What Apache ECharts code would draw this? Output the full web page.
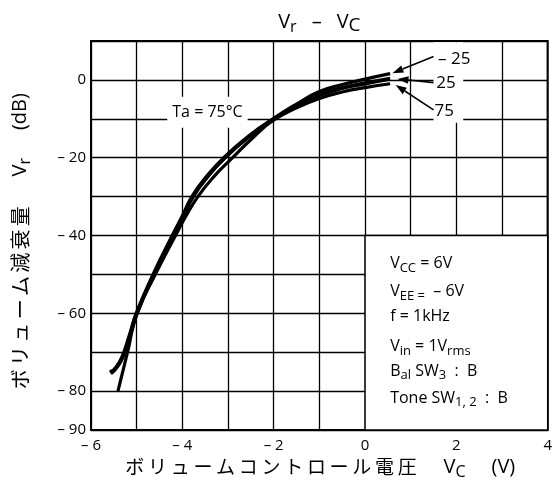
<!DOCTYPE html>
<html><head><meta charset="utf-8">
<script src="https://cdn.jsdelivr.net/npm/echarts@6/dist/echarts.min.js"></script>
<style>html,body{margin:0;padding:0;background:#fff}#c{width:555px;height:497px}</style>
</head><body><div id="c"></div>
<script>
// ---- data ----
const xTickLabels = [-6, -4, -2, 0, 2, 4];
const yTickLabels = [0, -20, -40, -60, -80, -90];
const tempNames = ['– 25', '25', '75'];
// Ta = -25 °C (upper curve)
const curveM25 = [[-5.59,-75.0],[-5.46,-74.2],[-5.32,-71.6],[-5.17,-66.4],[-5.0,-60.2],[-4.62,-50],[-4.20,-40],[-3.98,-35],[-3.76,-30],[-3.45,-25],[-3.06,-20],[-2.52,-14.4],[-2.0,-9.9],[-1.5,-6.2],[-1.0,-3.0],[-0.5,-1.2],[0,0.2],[0.55,1.6]];
// Ta = 25 °C (middle curve)
const curve25 = [[-5.57,-75.4],[-5.45,-74.0],[-5.31,-71.2],[-5.16,-66.0],[-5.0,-60],[-4.63,-50],[-4.21,-40],[-3.99,-35],[-3.78,-30],[-3.47,-25],[-3.08,-20],[-2.53,-14.4],[-2.0,-10.1],[-1.5,-6.7],[-1.0,-3.9],[-0.5,-2.1],[0,-0.9],[0.55,0.3]];
// Ta = 75 °C (lower curve)
const curve75 = [[-5.41,-80],[-5.2,-70],[-4.99,-60],[-4.59,-50],[-4.15,-40],[-3.92,-35],[-3.66,-30],[-3.32,-25],[-2.90,-20],[-2.45,-14.8],[-2.0,-10.3],[-1.5,-7.2],[-1.0,-4.8],[-0.5,-3.1],[0,-2.0],[0.55,-1.0]];

// ---- annotation placement (data coordinates) ----
const arrows = [
  {from:[1.50, 6.0], to:[0.60, 1.73]},
  {from:[1.50,-0.7], to:[0.71, 0.26]},
  {from:[1.50,-7.7], to:[0.67,-1.29]}
];
const tempLabelPos = [[1.60, 5.4],[1.56,-0.8],[1.52,-8.1]];
const condLines = [
  '{v|V}{s|CC}{v| = 6V}',
  '{v|V}{s|EE =}{v|  – 6V}',
  '{v|f = 1kHz}',
  '{v|V}{s|in}{v| = 1V}{s|rms}',
  '{v|B}{s|al}{v| SW}{s|3}{v|  :  B}',
  '{v|Tone SW}{s|1, 2}{v|  :  B}'
];
const condY = [-47.2,-54.5,-60.8,-68.5,-74.9,-81.8];
const condX = 0.55;

const FONT = "'Open Sans','Noto Sans CJK JP',sans-serif";
const JFONT = "'Noto Sans CJK JP',sans-serif";
const fmt = v => v < 0 ? '– ' + Math.abs(v) : String(v);

const chart = echarts.init(document.getElementById('c'), null, {renderer:'canvas'});
const lineSeries = (name, data, w) => ({
  name, type:'line', data, smooth:0.5, showSymbol:false, symbol:'none',
  lineStyle:{color:'#000', width:w}, z:3
});
chart.setOption({
  animation:false,
  backgroundColor:'#fff',
  grid:{left:91, right:4, top:41, bottom:67, show:true, borderColor:'#000', borderWidth:2, z:5},
  xAxis:{type:'value', min:-6, max:4, interval:1,
    axisLine:{show:false}, axisTick:{show:false},
    axisLabel:{margin:8, fontSize:15, color:'#000', fontFamily:FONT, showMinLabel:true, showMaxLabel:true,
      formatter:v => xTickLabels.includes(v) ? fmt(v) : ''},
    splitLine:{show:true, lineStyle:{color:'#000', width:1.3}}},
  yAxis:{type:'value', min:-90, max:10, interval:10,
    axisLine:{show:false}, axisTick:{show:false},
    axisLabel:{margin:5, fontSize:15, color:'#000', fontFamily:FONT, showMinLabel:true, showMaxLabel:true,
      formatter:v => yTickLabels.includes(v) ? fmt(v) : ''},
    splitLine:{show:true, lineStyle:{color:'#000', width:1.3}}},
  series:[lineSeries('-25', curveM25, 3.2), lineSeries('25', curve25, 4.2), lineSeries('75', curve75, 3.2)]
});

const P = (x, y) => chart.convertToPixel({gridIndex:0}, [x, y]);
const g = [];
// lower-right condition box
{
  const a = P(0, -40), b = P(4, -90);
  g.push({type:'rect', z:50, shape:{x:a[0], y:a[1], width:b[0]-a[0], height:b[1]-a[1]},
    style:{fill:'#fff', stroke:'#000', lineWidth:1.5}});
}
// white column behind temperature labels
{
  const a = P(1.5, 9.7), b = P(2.15, -11);
  g.push({type:'rect', z:50, shape:{x:a[0], y:a[1], width:b[0]-a[0], height:b[1]-a[1]}, style:{fill:'#fff'}});
}
// temp labels
tempNames.forEach((t, i) => {
  const p = P(tempLabelPos[i][0], tempLabelPos[i][1]);
  g.push({type:'text', z:60, x:p[0], y:p[1], style:{text:t, fill:'#000', fontSize:17, fontFamily:FONT, align:'left', verticalAlign:'middle'}});
});
// arrows
arrows.forEach(a => {
  const s = P(a.from[0], a.from[1]), e = P(a.to[0], a.to[1]);
  const dx = e[0]-s[0], dy = e[1]-s[1], L = Math.hypot(dx, dy), ux = dx/L, uy = dy/L;
  const hl = 11, hw = 3.8;
  const bx = e[0]-ux*hl, by = e[1]-uy*hl;
  g.push({type:'line', z:60, shape:{x1:s[0], y1:s[1], x2:bx, y2:by}, style:{stroke:'#000', lineWidth:1.6}});
  g.push({type:'polygon', z:60, shape:{points:[[e[0],e[1]],[bx-uy*hw, by+ux*hw],[bx+uy*hw, by-ux*hw]]}, style:{fill:'#000'}});
});
// Ta = 75°C label
{
  const p = P(-3.45, -8.3);
  g.push({type:'text', z:60, x:p[0], y:p[1], style:{text:'Ta = 75°C', fill:'#000', fontSize:16, fontFamily:FONT,
    align:'center', verticalAlign:'middle', backgroundColor:'#fff', padding:[6,5,9,5]}});
}
// condition text
const richC = {
  v:{fontSize:16, fontFamily:FONT, fill:'#000', lineHeight:22},
  s:{fontSize:13, fontFamily:FONT, fill:'#000', verticalAlign:'bottom', lineHeight:14}
};
condLines.forEach((t, i) => {
  const p = P(condX, condY[i]);
  g.push({type:'text', z:60, x:p[0], y:p[1], style:{text:t, rich:richC, align:'left', verticalAlign:'middle', fill:'#000'}});
});
// title
const L0 = P(-6, 10), R0 = P(4, -90);
const cx = (L0[0]+R0[0])/2, cy = (L0[1]+R0[1])/2;
g.push({type:'text', z:60, x:cx, y:L0[1]-19, style:{
  text:'{v|V}{s|r}{sp| }{v|–}{sp| }{v|V}{c|C}', align:'center', verticalAlign:'middle',
  rich:{v:{fontSize:20, fontFamily:FONT, fill:'#000', lineHeight:26},
        s:{fontSize:16, fontFamily:FONT, fill:'#000', verticalAlign:'bottom', lineHeight:18},
        c:{fontSize:19, fontFamily:FONT, fill:'#000', verticalAlign:'bottom', lineHeight:20},
        sp:{fontSize:20, width:15}}}});
// x-axis name
const jx = 'ボリュームコントロール電圧'.split('').map(c => '{j|' + c + '}').join('');
g.push({type:'text', z:60, x:cx, y:R0[1]+37, style:{
  text: jx + '{g| }{v|V}{c|C}{g2| }{v|(V)}', align:'center', verticalAlign:'middle',
  rich:{j:{fontSize:19, fontFamily:JFONT, fill:'#000', width:22.7, align:'center', lineHeight:26},
        v:{fontSize:20, fontFamily:FONT, fill:'#000', lineHeight:26},
        c:{fontSize:16, fontFamily:FONT, fill:'#000', verticalAlign:'bottom', lineHeight:18},
        g:{fontSize:10, width:25}, g2:{fontSize:10, width:26}}}});
// y-axis name
const jy = 'ボリューム減衰量'.split('').map(c => '{j|' + c + '}').join('');
g.push({type:'text', z:60, x:20, y:cy+6.5, rotation:Math.PI/2, style:{
  text: jy + '{g| }{v|V}{s|r}{g2| }{v|(dB)}', align:'center', verticalAlign:'middle',
  rich:{j:{fontSize:20, fontFamily:JFONT, fill:'#000', width:23.3, align:'center', lineHeight:26},
        v:{fontSize:20, fontFamily:FONT, fill:'#000', lineHeight:26},
        s:{fontSize:16, fontFamily:FONT, fill:'#000', verticalAlign:'bottom', lineHeight:18},
        g:{fontSize:10, width:28}, g2:{fontSize:10, width:28}}}});
chart.setOption({graphic:{elements:g}});
</script></body></html>
